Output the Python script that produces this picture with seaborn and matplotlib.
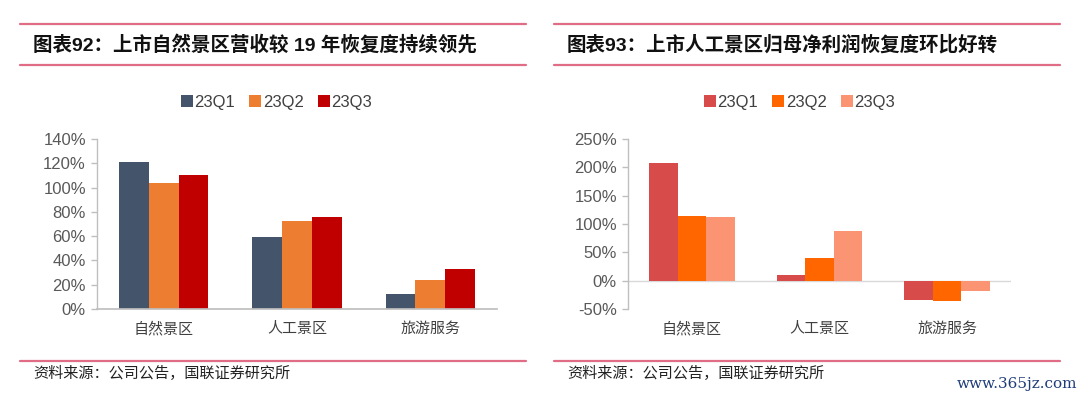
import numpy as np
import pandas as pd
import matplotlib
matplotlib.use("Agg")
import matplotlib.pyplot as plt
import matplotlib.ticker as mticker
from matplotlib.lines import Line2D
import seaborn as sns

categories = ["自然景区", "人工景区", "旅游服务"]
quarters = ["23Q1", "23Q2", "23Q3"]

# 营收较19年恢复度 (%)
rev_q1 = [121, 59, 12.6]
rev_q2 = [104, 72.7, 24]
rev_q3 = [110, 76, 33]

# 归母净利润恢复度 (%)
np_q1 = [207, 10, -35]
np_q2 = [114, 39.5, -36.7]
np_q3 = [112.5, 87, -18.4]

left_colors = ["#44546A", "#ED7D31", "#C00000"]
right_colors = ["#D84B4B", "#FF6600", "#FA9473"]

sns.set_theme(style="white")
plt.rcParams["font.family"] = ["Liberation Sans", "Noto Sans CJK SC"]
plt.rcParams["axes.unicode_minus"] = False

W, H = 1080, 399
fig = plt.figure(figsize=(W / 100, H / 100), dpi=100)


def long_df(q1, q2, q3):
    rows = []
    for q, vals in zip(quarters, [q1, q2, q3]):
        for c, v in zip(categories, vals):
            rows.append({"cat": c, "quarter": q, "val": v})
    return pd.DataFrame(rows)


def fx(px):
    return px / W


def fy(py):
    return 1 - py / H


def panel(rect, df, colors, ylim, step, zero_line, legend_x):
    ax = fig.add_axes(rect)
    sns.barplot(data=df, x="cat", y="val", hue="quarter", palette=colors,
                width=0.67, linewidth=0, saturation=1, ax=ax)
    ax.set_xlim(-0.5, 2.5)
    ax.set_ylim(*ylim)
    ax.yaxis.set_major_locator(mticker.MultipleLocator(step))
    ax.yaxis.set_major_formatter(mticker.FuncFormatter(lambda v, p: f"{v:.0f}%"))
    ax.set_xlabel("")
    ax.set_ylabel("")
    for s in ["top", "right"]:
        ax.spines[s].set_visible(False)
    ax.spines["left"].set_color("#BFBFBF")
    ax.spines["left"].set_linewidth(1)
    if zero_line:
        ax.spines["bottom"].set_visible(False)
        ax.axhline(0, color="#D9D9D9", lw=1, zorder=0.5)
    else:
        ax.spines["bottom"].set_color("#BFBFBF")
    ax.tick_params(axis="y", length=4, width=1, color="#BFBFBF", left=True,
                   labelsize=12, labelcolor="#595959", pad=4)
    ax.tick_params(axis="x", length=0, labelsize=10.8, labelcolor="#404040", pad=9)
    for lab in ax.get_xticklabels():
        lab.set_family(["Noto Sans CJK SC"])
        lab.set_fontweight("light")
    ax.legend_.remove()
    handles = [Line2D([0], [0], marker="s", ls="", markersize=8,
                      markerfacecolor=c, markeredgewidth=0) for c in colors]
    fig.legend(handles, quarters, loc="center", ncol=3, frameon=False,
               bbox_to_anchor=(legend_x, fy(102)), fontsize=12,
               handlelength=0.6, handletextpad=0.15, columnspacing=0.9,
               labelcolor="#404040")
    return ax


top, bottom = 139, 309
panel([fx(97), fy(bottom), fx(497 - 97), (bottom - top) / H],
      long_df(rev_q1, rev_q2, rev_q3), left_colors, (0, 140), 20, False, fx(277))
panel([fx(628), fy(bottom), fx(1011 - 628), (bottom - top) / H],
      long_df(np_q1, np_q2, np_q3), right_colors, (-50, 250), 50, True, fx(800))

# header / footer rules
rule = "#E06C86"
for x0, x1 in [(20, 526), (554, 1060)]:
    for y in (24, 65, 361):
        fig.add_artist(Line2D([fx(x0), fx(x1)], [fy(y), fy(y)], color=rule, lw=1.6))

fig.text(fx(33), fy(45), "图表92：上市自然景区营收较 19 年恢复度持续领先",
         fontsize=14, fontweight="bold", color="#111111", va="center")
fig.text(fx(567), fy(45), "图表93：上市人工景区归母净利润恢复度环比好转",
         fontsize=14, fontweight="bold", color="#111111", va="center")

for x in (33, 567):
    fig.text(fx(x), fy(373), "资料来源：公司公告，国联证券研究所",
             fontsize=10.9, color="#222222", va="center",
             family=["Noto Sans CJK SC"])

fig.text(fx(957), fy(384), "www.365jz.com", fontsize=11, color="#1F3C7A",
         va="center", family=["DejaVu Serif"])

fig.savefig("out.png", dpi=100, facecolor="white")
